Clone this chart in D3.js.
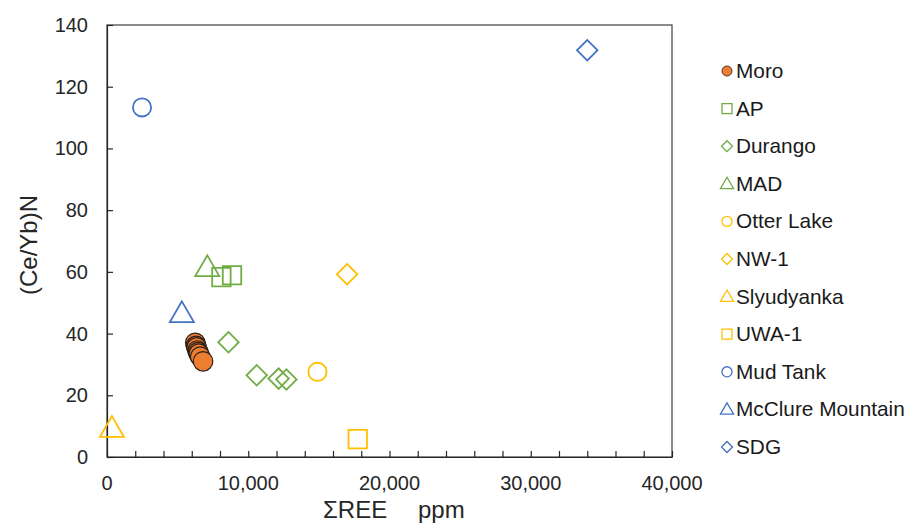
<!DOCTYPE html>
<html>
<head>
<meta charset="utf-8">
<script src="https://cdn.jsdelivr.net/npm/d3@7"></script>
<style>
  body { margin: 0; background: #fff; }
  text { font-family: Arial, "Liberation Sans", sans-serif; }
</style>
</head>
<body>
<svg></svg>
<script>
// series names, shapes, colours
let seriesNames = ['Moro', 'AP', 'Durango', 'MAD', 'Otter Lake', 'NW-1', 'Slyudyanka', 'UWA-1', 'Mud Tank', 'McClure Mountain', 'SDG'];
let seriesShape = ['circle', 'square', 'diamond', 'triangle', 'circle', 'diamond', 'triangle', 'square', 'circle', 'triangle', 'diamond'];
let seriesColor = ['#ED7D31', '#70AD47', '#70AD47', '#70AD47', '#FFC000', '#FFC000', '#FFC000', '#FFC000', '#4472C4', '#4472C4', '#4472C4'];

// ΣREE ppm values per series
let moroX     = [6250, 6300, 6350, 6400, 6450, 6500, 6600, 6800];
let moroY     = [37, 36, 35.5, 34.5, 34, 33.5, 32.5, 31];
let apX       = [8100, 8850];
let apY       = [58.3, 58.9];
let durangoX  = [8600, 10600, 12150, 12700];
let durangoY  = [37.2, 26.5, 25.4, 25.1];
let madX      = [7100];
let madY      = [61.5];
let otterX    = [14900];
let otterY    = [27.6];
let nw1X      = [17000];
let nw1Y      = [59.2];
let slyuX     = [350];
let slyuY     = [9.4];
let uwaX      = [17750];
let uwaY      = [5.8];
let mudX      = [2480];
let mudY      = [113.3];
let mccX      = [5300];
let mccY      = [46.6];
let sdgX      = [34000];
let sdgY      = [131.8];

let xTicks = [0, 10000, 20000, 30000, 40000];
let yTicks = [0, 20, 40, 60, 80, 100, 120, 140];

let allX = [moroX, apX, durangoX, madX, otterX, nw1X, slyuX, uwaX, mudX, mccX, sdgX];
let allY = [moroY, apY, durangoY, madY, otterY, nw1Y, slyuY, uwaY, mudY, mccY, sdgY];

let width     = 914,
    height    = 525,
    plotLeft  = 107,
    plotRight = 672,
    plotTop   = 25,
    plotBot   = 457;

let svg = d3.select('svg')
            .attr('width', width)
            .attr('height', height);

let xScale = d3.scaleLinear().domain([0, 40000]).range([plotLeft, plotRight]),
    yScale = d3.scaleLinear().domain([0, 140]).range([plotBot, plotTop]);

// frame
svg.append('rect')
    .attr('x', plotLeft).attr('y', plotTop)
    .attr('width', plotRight - plotLeft).attr('height', plotBot - plotTop)
    .attr('fill', 'none')
    .attr('stroke', '#404040')
    .attr('stroke-width', 1.2);

// minor x ticks (inside)
let xAxis = d3.axisBottom(xScale)
              .tickValues(d3.range(0, 40001, 2000))
              .tickSize(-6)
              .tickSizeOuter(0)
              .tickFormat('');
svg.append('g')
    .attr('transform', `translate(0, ${plotBot})`)
    .call(xAxis)
    .call(g => g.selectAll('line, path').attr('stroke', '#262626').attr('stroke-width', 1.2));

// x tick labels
svg.append('g')
    .selectAll('text')
    .data(xTicks)
    .enter()
    .append('text')
        .attr('x', d => xScale(d))
        .attr('y', plotBot + 33)
        .attr('text-anchor', 'middle')
        .attr('font-size', 20)
        .attr('fill', '#262626')
        .text(d => d3.format(',')(d));

// y axis
let yAxis = d3.axisLeft(yScale)
              .tickValues(yTicks)
              .tickSize(-6)
              .tickSizeOuter(0)
              .tickFormat('');
svg.append('g')
    .attr('transform', `translate(${plotLeft}, 0)`)
    .call(yAxis)
    .call(g => g.selectAll('line, path').attr('stroke', '#262626').attr('stroke-width', 1.2));

svg.append('g')
    .selectAll('text')
    .data(yTicks)
    .enter()
    .append('text')
        .attr('x', plotLeft - 19)
        .attr('y', d => yScale(d) + 7)
        .attr('text-anchor', 'end')
        .attr('font-size', 20)
        .attr('fill', '#262626')
        .text(d => d);

// axis titles
svg.append('text')
    .attr('x', 323)
    .attr('y', 518)
    .attr('font-size', 24)
    .attr('fill', '#262626')
    .text('ΣREE');
svg.append('text')
    .attr('x', 418)
    .attr('y', 518)
    .attr('font-size', 24)
    .attr('fill', '#262626')
    .text('ppm');

svg.append('text')
    .attr('transform', 'rotate(-90)')
    .attr('x', -245)
    .attr('y', 37)
    .attr('text-anchor', 'middle')
    .attr('font-size', 24)
    .attr('fill', '#262626')
    .text('(Ce/Yb)N');

// marker shapes
let symbolOf = {
    circle:   d3.symbolCircle,
    square:   d3.symbolSquare,
    diamond:  d3.symbolSquare,
    triangle: d3.symbolTriangle
};
function markerPath(shape, size) {
    return d3.symbol().type(symbolOf[shape]).size(size)();
}
function markerTransform(shape, x, y) {
    if (shape === 'diamond') return `translate(${x},${y}) rotate(45)`;
    if (shape === 'triangle') return `translate(${x},${y + 2})`;
    return `translate(${x},${y})`;
}
let plotSize = { circle: 260, square: 340, diamond: 210, triangle: 250 };

// points, drawn so Moro ends on top
let order = [1, 2, 3, 4, 5, 6, 7, 8, 9, 10, 0];
order.forEach(i => {
    let pts = allX[i].map((x, j) => ({ x: x, y: allY[i][j] }));
    let shape = seriesShape[i];
    let isMoro = i === 0;
    svg.append('g')
        .selectAll('path')
        .data(pts)
        .enter()
        .append('path')
            .attr('d', markerPath(shape, isMoro ? 300 : plotSize[shape]))
            .attr('transform', d => markerTransform(shape, xScale(d.x), yScale(d.y)))
            .attr('fill', isMoro ? seriesColor[i] : 'none')
            .attr('stroke', isMoro ? '#2b2018' : seriesColor[i])
            .attr('stroke-width', isMoro ? 1.2 : 1.8);
});

// legend
let legendY = d3.scaleLinear().domain([0, 10]).range([71, 447]);
let legend = svg.append('g');
seriesNames.forEach((name, i) => {
    let shape = seriesShape[i];
    let isMoro = i === 0;
    let size = { circle: 80, square: 100, diamond: 60, triangle: 75 }[shape];
    legend.append('path')
        .attr('d', markerPath(shape, size))
        .attr('transform', markerTransform(shape, 727, legendY(i) - (shape === 'triangle' ? 1 : 0)))
        .attr('fill', isMoro ? seriesColor[i] : 'none')
        .attr('stroke', isMoro ? '#2b2018' : seriesColor[i])
        .attr('stroke-width', isMoro ? 0.8 : 1.3);
    legend.append('text')
        .attr('x', 736)
        .attr('y', legendY(i) + 7)
        .attr('font-size', 20.8)
        .attr('fill', '#1a1a1a')
        .text(name);
});
</script>
</body>
</html>
